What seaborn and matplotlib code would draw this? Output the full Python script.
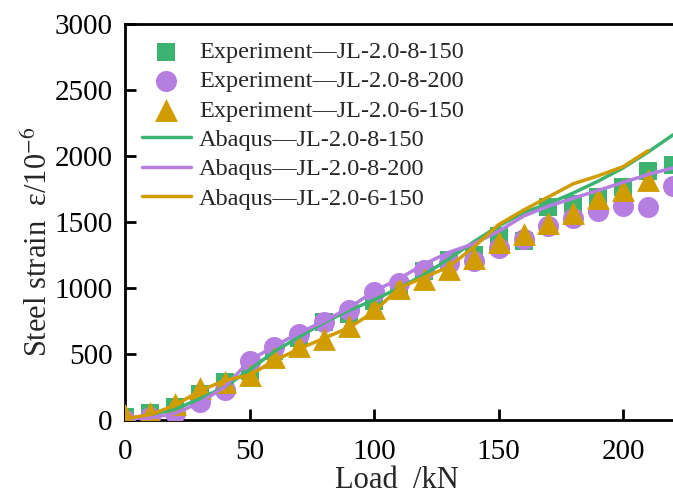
import pandas as pd
import matplotlib.pyplot as plt
import seaborn as sns

# --- Data ---
load_exp = [0, 10, 20, 30, 40, 50, 60, 70, 80, 90, 100, 110, 120, 130, 140, 150, 160, 170, 180, 190, 200, 210, 220]
exp_8_150 = [20, 50, 100, 200, 290, 370, 520, 620, 740, 800, 900, 985, 1130, 1210, 1250, 1395, 1355, 1615, 1640, 1690, 1765, 1890, 1930]
exp_8_200 = [0, 20, 55, 135, 230, 450, 550, 655, 740, 830, 970, 1035, 1140, 1190, 1205, 1300, 1370, 1470, 1530, 1580, 1620, 1610, 1770]
load_exp_6 = load_exp[:-1]
exp_6_150 = [40, 50, 120, 245, 290, 340, 475, 560, 615, 710, 850, 1000, 1070, 1145, 1225, 1350, 1410, 1490, 1565, 1680, 1740, 1820]

load_fem = load_exp
fem_8_150 = [0, 40, 80, 160, 250, 380, 520, 630, 740, 830, 910, 1000, 1100, 1220, 1350, 1470, 1570, 1640, 1720, 1810, 1910, 2030, 2160]
fem_8_200 = [0, 15, 50, 130, 250, 450, 560, 660, 750, 850, 975, 1070, 1180, 1270, 1335, 1430, 1545, 1620, 1680, 1740, 1800, 1860, 1910]
load_fem_6 = load_exp_6
fem_6_150 = [10, 40, 110, 220, 300, 340, 450, 540, 620, 700, 820, 1000, 1080, 1160, 1310, 1480, 1590, 1690, 1790, 1850, 1920, 2040]

GREEN = '#3cb371'
PURPLE = '#b57ee0'
GOLD = '#d19c00'

# --- Style ---
sns.set_theme(style='ticks')
plt.rcParams['font.family'] = ['Liberation Serif', 'DejaVu Serif']
plt.rcParams['mathtext.fontset'] = 'stix'

fig = plt.figure(figsize=(6.73, 5.0), dpi=100)
ax = fig.add_axes([125 / 673, 80 / 500, 548 / 673, 396 / 500])

# experiments (markers)
sns.scatterplot(x=load_exp, y=exp_8_150, ax=ax, marker='s', s=180, color=GREEN,
                linewidth=0, label='Experiment—JL-2.0-8-150', zorder=3)
sns.scatterplot(x=load_exp, y=exp_8_200, ax=ax, marker='o', s=230, color=PURPLE,
                linewidth=0, label='Experiment—JL-2.0-8-200', zorder=3)
sns.scatterplot(x=load_exp_6, y=exp_6_150, ax=ax, marker='^', s=270, color=GOLD,
                linewidth=0, label='Experiment—JL-2.0-6-150', zorder=3)

# Abaqus (lines)
sns.lineplot(x=load_fem, y=fem_8_150, ax=ax, color=GREEN, lw=2.5,
             label='Abaqus—JL-2.0-8-150', zorder=4)
sns.lineplot(x=load_fem, y=fem_8_200, ax=ax, color=PURPLE, lw=2.5,
             label='Abaqus—JL-2.0-8-200', zorder=4)
sns.lineplot(x=load_fem_6, y=fem_6_150, ax=ax, color=GOLD, lw=2.5,
             label='Abaqus—JL-2.0-6-150', zorder=4)

ax.set_xlim(0, 220)
ax.set_ylim(0, 3000)
ax.set_xticks([0, 50, 100, 150, 200])
ax.set_yticks([0, 500, 1000, 1500, 2000, 2500, 3000])

for side in ['left', 'bottom', 'top']:
    ax.spines[side].set_linewidth(2)
    ax.spines[side].set_color('black')
ax.spines['right'].set_visible(False)
ax.tick_params(axis='both', direction='in', length=8, width=2, labelsize=21, colors='black')
ax.tick_params(axis='x', pad=14)
ax.tick_params(axis='y', pad=9)

ax.set_xlabel('Load  /kN', fontsize=22)
ax.set_ylabel('Steel strain  ε/10$^{-6}$', fontsize=22)
ax.xaxis.set_label_coords(0.497, -0.117)
ax.yaxis.set_label_coords(-0.13, 0.45)

# legend in the same order as the reference
handles, labels = ax.get_legend_handles_labels()
order = ['Experiment—JL-2.0-8-150', 'Experiment—JL-2.0-8-200', 'Experiment—JL-2.0-6-150',
         'Abaqus—JL-2.0-8-150', 'Abaqus—JL-2.0-8-200', 'Abaqus—JL-2.0-6-150']
hmap = dict(zip(labels, handles))
ax.legend([hmap[k] for k in order], order, loc='upper left', frameon=False,
          fontsize=17.5, handlelength=2.0, handletextpad=0.35, labelspacing=0.3,
          borderaxespad=0.3, bbox_to_anchor=(0.0, 1.0))

fig.savefig('out.png', dpi=100)
